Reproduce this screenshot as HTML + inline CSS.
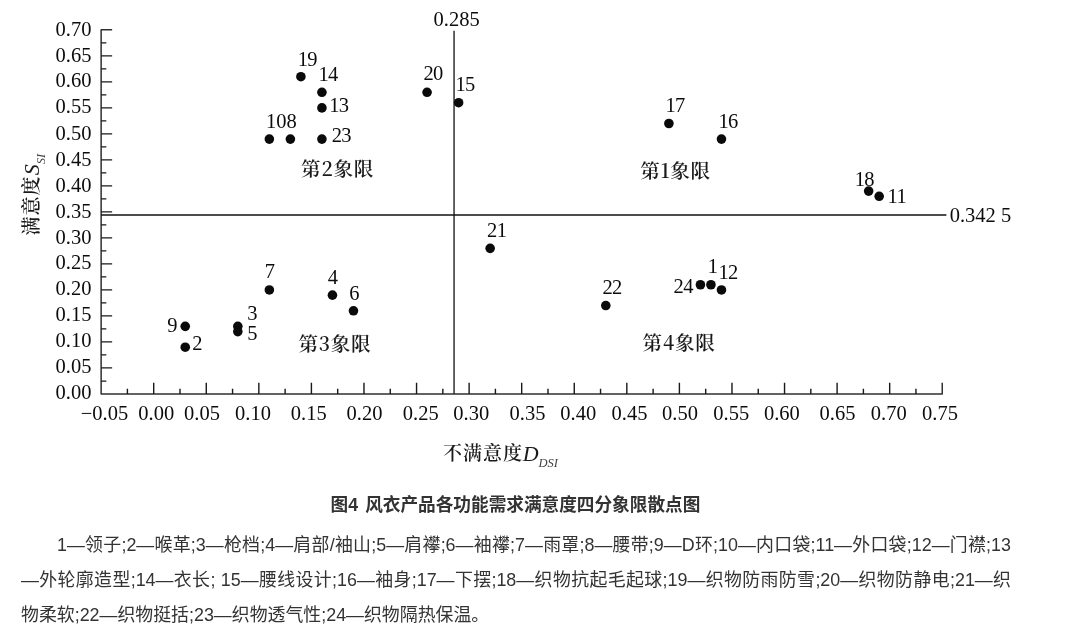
<!DOCTYPE html>
<html lang="zh-CN">
<head>
<meta charset="utf-8">
<title>图4 风衣产品各功能需求满意度四分象限散点图</title>
<style>
html,body{margin:0;padding:0;background:#fff;}
body{width:1080px;height:643px;position:relative;overflow:hidden;font-family:"Liberation Sans","Noto Sans CJK SC",sans-serif;color:#333;}
.cap{position:absolute;left:330.6px;top:487.5px;text-align:left;word-spacing:2.2px;font-weight:bold;font-size:17.65px;line-height:34px;color:#333;white-space:nowrap;}
.ln{position:absolute;left:21px;width:990px;font-size:17.9px;line-height:34px;height:34px;color:#333;white-space:nowrap;text-align:justify;text-align-last:justify;overflow:visible;}
.ln.first{left:57px;width:954px;}
.ln.last{text-align:left;text-align-last:left;}
</style>
</head>
<body>
<svg width="1080" height="480" viewBox="0 0 1080 480" style="position:absolute;left:0;top:0">
<g stroke="#303030" fill="none">
<path d="M112.13 29.86H101.13V394.00H942.25v-11.2" stroke-width="1.5" stroke-linejoin="round"/>
<path d="M101.13 381.00h5.2M101.13 367.99h11M101.13 354.99h5.2M101.13 341.98h11M101.13 328.98h5.2M101.13 315.97h11M101.13 302.96h5.2M101.13 289.96h11M101.13 276.95h5.2M101.13 263.95h11M101.13 250.94h5.2M101.13 237.94h11M101.13 224.93h5.2M101.13 211.93h11M101.13 198.92h5.2M101.13 185.92h11M101.13 172.91h5.2M101.13 159.91h11M101.13 146.90h5.2M101.13 133.90h11M101.13 120.89h5.2M101.13 107.89h11M101.13 94.88h5.2M101.13 81.88h11M101.13 68.88h5.2M101.13 55.87h11M101.13 42.86h5.2" stroke-width="1.25" stroke="#181818"/>
<path d="M127.41 394.00v-5.3M153.70 394.00v-11.2M179.99 394.00v-5.3M206.27 394.00v-11.2M232.56 394.00v-5.3M258.84 394.00v-11.2M285.12 394.00v-5.3M311.41 394.00v-11.2M337.69 394.00v-5.3M363.98 394.00v-11.2M390.27 394.00v-5.3M416.55 394.00v-11.2M442.84 394.00v-5.3M469.12 394.00v-11.2M495.41 394.00v-5.3M521.69 394.00v-11.2M547.98 394.00v-5.3M574.26 394.00v-11.2M600.55 394.00v-5.3M626.83 394.00v-11.2M653.12 394.00v-5.3M679.40 394.00v-11.2M705.69 394.00v-5.3M731.97 394.00v-11.2M758.25 394.00v-5.3M784.54 394.00v-11.2M810.83 394.00v-5.3M837.11 394.00v-11.2M863.40 394.00v-5.3M889.68 394.00v-11.2M915.96 394.00v-5.3" stroke-width="1.4" stroke="#181818"/>
<path d="M454.05 30.8V394.00" stroke-width="1.4" stroke="#222"/>
<path d="M101.13 215H946.4" stroke-width="1.5" stroke="#111"/>
</g>
<g fill="#0a0a0a">
<circle cx="710.94" cy="284.76" r="4.8"/>
<circle cx="185.24" cy="347.18" r="4.8"/>
<circle cx="237.81" cy="326.37" r="4.8"/>
<circle cx="332.44" cy="295.16" r="4.8"/>
<circle cx="237.81" cy="331.58" r="4.8"/>
<circle cx="353.47" cy="310.77" r="4.8"/>
<circle cx="269.35" cy="289.96" r="4.8"/>
<circle cx="290.38" cy="139.10" r="4.8"/>
<circle cx="185.24" cy="326.37" r="4.8"/>
<circle cx="269.35" cy="139.10" r="4.8"/>
<circle cx="879.17" cy="196.32" r="4.8"/>
<circle cx="721.46" cy="289.96" r="4.8"/>
<circle cx="321.92" cy="107.89" r="4.8"/>
<circle cx="321.92" cy="92.28" r="4.8"/>
<circle cx="458.61" cy="102.69" r="4.8"/>
<circle cx="721.46" cy="139.10" r="4.8"/>
<circle cx="668.89" cy="123.50" r="4.8"/>
<circle cx="868.65" cy="191.12" r="4.8"/>
<circle cx="300.90" cy="76.68" r="4.8"/>
<circle cx="427.06" cy="92.28" r="4.8"/>
<circle cx="490.15" cy="248.34" r="4.8"/>
<circle cx="605.80" cy="305.57" r="4.8"/>
<circle cx="321.92" cy="139.10" r="4.8"/>
<circle cx="700.43" cy="284.76" r="4.8"/>
</g>
<g font-family="'Liberation Serif', serif" font-size="20.5" fill="#0c0c0c">
<text x="91.4" y="399.35" text-anchor="end">0.00</text>
<text x="91.4" y="373.34" text-anchor="end">0.05</text>
<text x="91.4" y="347.33" text-anchor="end">0.10</text>
<text x="91.4" y="321.32" text-anchor="end">0.15</text>
<text x="91.4" y="295.31" text-anchor="end">0.20</text>
<text x="91.4" y="269.30" text-anchor="end">0.25</text>
<text x="91.4" y="243.54" text-anchor="end">0.30</text>
<text x="91.4" y="217.53" text-anchor="end">0.35</text>
<text x="91.4" y="191.52" text-anchor="end">0.40</text>
<text x="91.4" y="165.51" text-anchor="end">0.45</text>
<text x="91.4" y="139.50" text-anchor="end">0.50</text>
<text x="91.4" y="113.49" text-anchor="end">0.55</text>
<text x="91.4" y="87.48" text-anchor="end">0.60</text>
<text x="91.4" y="62.47" text-anchor="end">0.65</text>
<text x="91.4" y="36.46" text-anchor="end">0.70</text>
<text x="80.75" y="420.4">−0.05</text>
<text x="138.25" y="420.4">0.00</text>
<text x="184.00" y="420.4">0.05</text>
<text x="235.00" y="420.4">0.10</text>
<text x="290.75" y="420.4">0.15</text>
<text x="346.50" y="420.4">0.20</text>
<text x="402.75" y="420.4">0.25</text>
<text x="453.25" y="420.4">0.30</text>
<text x="509.50" y="420.4">0.35</text>
<text x="560.25" y="420.4">0.40</text>
<text x="611.50" y="420.4">0.45</text>
<text x="662.00" y="420.4">0.50</text>
<text x="713.25" y="420.4">0.55</text>
<text x="763.90" y="420.4">0.60</text>
<text x="819.50" y="420.4">0.65</text>
<text x="870.75" y="420.4">0.70</text>
<text x="922.00" y="420.4">0.75</text>
<text x="297.80" y="65.60" letter-spacing="-0.7">19</text>
<text x="318.50" y="80.70" letter-spacing="-0.7">14</text>
<text x="329.20" y="112.30" letter-spacing="-0.7">13</text>
<text x="265.90" y="128.00">108</text>
<text x="331.80" y="142.00" letter-spacing="-0.7">23</text>
<text x="423.50" y="80.20" letter-spacing="-0.7">20</text>
<text x="455.50" y="90.60" letter-spacing="-0.7">15</text>
<text x="665.50" y="112.20" letter-spacing="-0.7">17</text>
<text x="718.50" y="128.10" letter-spacing="-0.7">16</text>
<text x="854.75" y="185.80" letter-spacing="-0.7">18</text>
<text x="887.60" y="203.00" letter-spacing="-0.7">11</text>
<text x="487.10" y="237.40" letter-spacing="-0.7">21</text>
<text x="602.40" y="293.80" letter-spacing="-0.7">22</text>
<text x="673.60" y="292.50" letter-spacing="-0.7">24</text>
<text x="707.80" y="272.90">1</text>
<text x="718.50" y="278.80" letter-spacing="-0.7">12</text>
<text x="167.30" y="331.80">9</text>
<text x="192.30" y="350.20">2</text>
<text x="247.30" y="320.40">3</text>
<text x="247.30" y="340.15">5</text>
<text x="264.80" y="278.25">7</text>
<text x="327.80" y="283.90">4</text>
<text x="349.30" y="299.95">6</text>
<text x="433.5" y="25.5">0.285</text>
<text x="949.7" y="221.9">0.342 5</text>
</g>
<g font-family="'Liberation Serif', 'Noto Serif CJK SC', serif" font-size="19" font-weight="500" fill="#1a1a1a">
<text x="301.10" y="176.40" font-size="19.6" font-weight="600" letter-spacing="0.7">第<tspan font-family="Noto Serif CJK SC, serif" font-size="19.6">2</tspan>象限</text>
<text x="640.15" y="177.50" font-size="19.6" font-weight="600" letter-spacing="0.7">第<tspan font-family="Noto Serif CJK SC, serif" font-size="19.6">1</tspan>象限</text>
<text x="298.50" y="351.00" font-size="19.6" font-weight="600" letter-spacing="0.7">第<tspan font-family="Noto Serif CJK SC, serif" font-size="19.6">3</tspan>象限</text>
<text x="642.60" y="349.60" font-size="19.6" font-weight="600" letter-spacing="0.7">第<tspan font-family="Noto Serif CJK SC, serif" font-size="19.6">4</tspan>象限</text>
<text x="443" y="459.8"><tspan letter-spacing="1" font-weight="600">不满意度</tspan><tspan font-style="italic" font-size="22" dx="-0.3" dy="1">D</tspan><tspan font-style="italic" font-size="12.5" dy="6" dx="0" fill="#444">DSI</tspan></text>
<text transform="translate(38.3 235.5) rotate(-90)"><tspan letter-spacing="1" font-weight="600">满意度</tspan><tspan font-style="italic" font-size="22" dx="0.3" dy="1">S</tspan><tspan font-style="italic" font-size="12.5" dy="6" fill="#444">SI</tspan></text>
</g>
</svg>
<div class="cap">图4 风衣产品各功能需求满意度四分象限散点图</div>
<div class="ln first" style="top:527.6px">1—领子;2—喉革;3—枪档;4—肩部/袖山;5—肩襻;6—袖襻;7—雨罩;8—腰带;9—D环;10—内口袋;11—外口袋;12—门襟;13</div>
<div class="ln" style="top:563.1px">—外轮廓造型;14—衣长; 15—腰线设计;16—袖身;17—下摆;18—织物抗起毛起球;19—织物防雨防雪;20—织物防静电;21—织</div>
<div class="ln last" style="top:598.3px">物柔软;22—织物挺括;23—织物透气性;24—织物隔热保温。</div>
</body>
</html>
